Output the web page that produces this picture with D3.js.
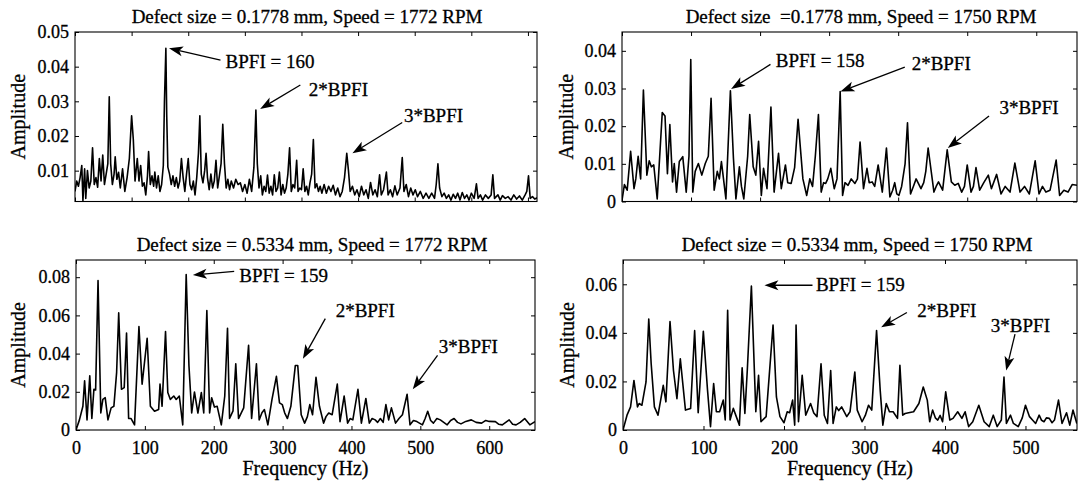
<!DOCTYPE html>
<html>
<head>
<meta charset="utf-8">
<script src="https://cdn.jsdelivr.net/npm/d3@7"></script>
<style>
body { margin: 0; background: #fff; }
text { font-family: "Liberation Serif", "DejaVu Serif", serif; fill: #000; stroke: #000; stroke-width: 0.3px; }
.tick text { font-size: 18px; }
</style>
</head>
<body>
<script>
// spectra: [frequency (Hz), amplitude]
var seriesTL = [[0,0.004],[3,0.007],[6,0.0055],[9,0.008],[12,0.0115],[14,0.0013],[17,0.0105],[19,0.002],[22,0.0100],[25,0.005],[28,0.007],[31,0.0166],[34,0.006],[37,0.008],[40,0.0052],[43,0.0135],[46,0.007],[49,0.0145],[52,0.006],[55,0.009],[58,0.012],[60.5,0.0313],[63,0.012],[66,0.006],[69,0.009],[71,0.014],[74,0.0075],[77,0.0095],[80,0.005],[84,0.0105],[88,0.004],[92,0.008],[96,0.0135],[100,0.0258],[103,0.019],[106,0.007],[110,0.0135],[113,0.007],[116,0.0115],[119,0.0055],[122,0.0065],[125,0.003],[128,0.0085],[130,0.0155],[133,0.006],[136,0.0085],[139,0.0055],[141,0.0096],[144,0.005],[147,0.0085],[150,0.004],[153,0.006],[156,0.0115],[158,0.03],[160.5,0.0453],[162,0.026],[164,0.011],[167,0.009],[170,0.006],[173,0.0085],[176,0.0055],[179,0.008],[182,0.005],[185,0.007],[188,0.0135],[191,0.008],[194,0.004],[197,0.009],[200,0.0135],[203,0.006],[206,0.0045],[209,0.007],[212,0.003],[215,0.008],[218,0.015],[220.5,0.0258],[223,0.009],[226,0.0065],[229,0.01],[231.5,0.015],[234,0.008],[237,0.0045],[240,0.009],[243,0.005],[246,0.007],[249,0.013],[252,0.005],[255,0.0085],[258,0.012],[261,0.0234],[264,0.012],[267,0.005],[270,0.0075],[273,0.0045],[276,0.007],[280,0.005],[284,0.0075],[288,0.006],[292,0.0065],[296,0.004],[300,0.006],[304,0.0035],[308,0.0075],[312,0.004],[316,0.011],[319.5,0.0275],[322,0.012],[325,0.005],[328,0.0085],[331,0.003],[334,0.0055],[337,0.004],[340,0.0087],[343,0.0035],[346,0.0055],[349,0.003],[352,0.0088],[355,0.004],[358,0.005],[361,0.0096],[364,0.003],[367,0.006],[370,0.0035],[373,0.005],[376,0.009],[379,0.0166],[382,0.004],[385,0.006],[388,0.005],[391.5,0.013],[394,0.004],[397,0.005],[400,0.0045],[403,0.0105],[406,0.004],[409,0.0055],[412,0.003],[415,0.0065],[418,0.009],[421,0.019],[424,0.005],[427,0.0062],[430,0.004],[433,0.0055],[436,0.0035],[440,0.006],[444,0.0035],[448,0.0055],[452,0.004],[456,0.0058],[460,0.003],[464,0.005],[468,0.0025],[472,0.004],[476,0.008],[480,0.015],[483,0.01],[486,0.004],[490,0.0055],[494,0.003],[498,0.0045],[502,0.0025],[506,0.0055],[510,0.003],[514,0.0045],[518,0.002],[522,0.0066],[526,0.003],[530,0.0045],[534,0.0025],[538,0.0088],[541,0.003],[545,0.0045],[550,0.0096],[553,0.003],[557,0.0045],[561,0.0025],[565,0.0056],[569,0.003],[574,0.005],[578,0.0138],[581,0.004],[585,0.006],[589,0.0025],[593,0.005],[597,0.003],[601,0.0045],[605,0.0025],[610,0.004],[615,0.002],[620,0.0035],[625,0.002],[630,0.0035],[635,0.002],[638,0.006],[641,0.012],[644,0.005],[648,0.0025],[652,0.0035],[656,0.002],[660,0.003],[664,0.0015],[668,0.0032],[672,0.002],[676,0.0035],[680,0.0015],[684,0.0037],[688,0.002],[692,0.003],[696,0.0015],[700,0.0035],[705,0.002],[709,0.0062],[712,0.002],[716,0.003],[720,0.0015],[725,0.003],[730,0.002],[735,0.003],[738,0.0088],[741,0.002],[747,0.003],[751,0.0015],[755,0.0028],[760,0.002],[765,0.0025],[770,0.0015],[775,0.003],[780,0.0018],[785,0.0027],[790,0.0015],[795,0.003],[798,0.004],[801,0.0085],[804,0.002],[808,0.0025],[812,0.0018],[816,0.0022]];

var seriesTR = [[0,0.0003],[3.5,0.0045],[7.5,0.003],[12.5,0.0133],[17.4,0.0034],[20,0.006],[23.4,0.012],[27,0.006],[31,0.0296],[36,0.007],[39.4,0.0108],[42.5,0.0092],[46,0.0097],[51,0.0007],[58.3,0.0236],[62.3,0.0227],[65.8,0.0074],[69.3,0.0204],[73.2,0.0052],[75.7,0.0101],[79,0.0025],[83,0.0106],[88,0.0119],[93,0.0025],[97,0.012],[99.6,0.0377],[102.5,0.0025],[106,0.008],[110.6,0.0101],[115.6,0.007],[120.6,0.0101],[125,0.012],[129,0.0274],[133.5,0.003],[138,0.008],[141,0.006],[144,0.0106],[150.5,0.0007],[157,0.0294],[161.4,0.0115],[165,0.0007],[170,0.0092],[173,0.004],[176.4,0.0007],[182,0.012],[185,0.0231],[190,0.0092],[193.8,0.007],[197.8,0.016],[201.8,0.0016],[205,0.0088],[210,0.0034],[215.7,0.0251],[220.3,0.0025],[226.7,0.0128],[230.7,0.0034],[236.7,0.0097],[240,0.005],[245,0.0048],[250,0.009],[255,0.0218],[262,0.006],[267.5,0.0016],[272,0.006],[276,0.004],[280,0.012],[284.5,0.0231],[288.5,0.0025],[292,0.005],[295,0.0048],[298,0.006],[302.4,0.0088],[307.4,0.0034],[311.4,0.006],[316,0.0292],[319.5,0.0016],[323,0.005],[327.4,0.0043],[332,0.006],[337.4,0.0048],[341,0.006],[344.8,0.0158],[349.8,0.0034],[354.8,0.0088],[358,0.005],[362.3,0.0052],[366,0.004],[371,0.0097],[377,0.0025],[383,0.0142],[388,0.0012],[392,0.003],[395,0.005],[398,0.002],[401,0.0016],[405,0.004],[410,0.01],[413.5,0.0209],[417.9,0.002],[422,0.004],[426,0.006],[433,0.0034],[437,0.005],[440,0.008],[443.4,0.0142],[451.8,0.0025],[455,0.004],[458.4,0.0052],[464.4,0.003],[471,0.0137],[477,0.0052],[482,0.0043],[487,0.0048],[492,0.0025],[496,0.004],[500,0.0097],[505.5,0.0025],[509,0.004],[512.7,0.009],[518,0.003],[524,0.005],[530.6,0.007],[535,0.0034],[542.6,0.0072],[549,0.002],[555,0.004],[562,0.0025],[569,0.0102],[576.5,0.0025],[583,0.004],[590,0.002],[598.4,0.0108],[604,0.002],[609,0.004],[614,0.0025],[620,0.003],[628.8,0.011],[633.8,0.0016],[640,0.003],[646,0.0025],[652,0.0045],[659,0.0043]];

var seriesBL = [[0,0],[5,0.0053],[10,0.0124],[12.5,0.0258],[16,0.0053],[20,0.0284],[23,0.006],[26,0.0213],[28.5,0.021],[32,0.0782],[36,0.0089],[39,0.016],[42.4,0.0169],[46.4,0.0053],[51,0.0116],[55,0.0124],[59,0.0302],[62,0.0613],[66,0.0213],[70,0.0222],[73.4,0.0507],[76.4,0.006],[80,0.006],[85,0.0027],[91.4,0.0542],[96,0.024],[103.3,0.048],[108,0.0124],[114,0.0098],[120,0.0107],[122,0.024],[125,0.0124],[130,0.0516],[133.3,0.0196],[137,0.016],[142,0.0178],[145.5,0.016],[150,0.0178],[155,0.0027],[160,0.0814],[164,0.0338],[168,0.0089],[172,0.0199],[177,0.0089],[182,0.0196],[185.5,0.0089],[190,0.0626],[194,0.0089],[197,0.0169],[201,0.012],[205,0.0124],[211,0.0027],[216,0.0178],[220,0.0533],[223,0.006],[228,0.01],[232,0.0347],[236,0.006],[240,0.009],[243.5,0.0116],[250.6,0.0444],[255,0.006],[262,0.0347],[266,0.0053],[270,0.009],[273.6,0.0107],[278.6,0.0027],[284.6,0.016],[291,0.0281],[295.5,0.0142],[299.5,0.0133],[303,0.009],[307,0.006],[312,0.0124],[318.5,0.0338],[322,0.0338],[327,0.008],[332,0.0036],[336,0.007],[339.5,0.0133],[343.5,0.008],[348.5,0.0276],[353.5,0.0124],[359.5,0.0036],[363,0.007],[367,0.0089],[372,0.008],[379.4,0.024],[383.4,0.0044],[389.4,0.0178],[394.4,0.0036],[398,0.006],[402,0.0053],[409.4,0.0213],[414.4,0.0036],[420.9,0.0165],[425.9,0.0036],[430,0.006],[434.4,0.0053],[438,0.004],[442,0.006],[446,0.004],[450,0.0133],[454,0.0053],[458,0.0116],[464,0.0036],[469,0.006],[474,0.008],[480.8,0.0187],[485,0.0027],[490,0.005],[495,0.0044],[503,0.0027],[507,0.006],[510.7,0.0098],[515,0.005],[519,0.0036],[524,0.006],[529,0.0053],[534,0.004],[539,0.0027],[544,0.005],[549,0.006],[554,0.004],[559,0.0032],[566,0.0045],[574,0.0053],[581,0.004],[589,0.0036],[595,0.005],[600,0.0045],[609,0.0044],[614,0.003],[619,0.0027],[624,0.004],[629,0.0053],[634,0.003],[639,0.0027],[645,0.004],[651.5,0.006],[659,0.0027],[666.5,0.0044]];

var seriesBR = [[0,0],[5,0.0061],[9.4,0.0095],[13.6,0.0204],[18,0.0095],[20,0.0109],[23.5,0.0102],[28.6,0.0198],[32,0.0457],[35,0.0273],[39,0.0095],[43.5,0.0061],[50,0.0184],[53.3,0.0116],[58.4,0.0447],[62.7,0.0245],[67,0.0129],[71.2,0.0293],[77.6,0.0082],[84,0.0089],[89,0.0409],[93.4,0.0071],[99.8,0.0406],[105,0.0164],[108.7,0.0014],[112.6,0.0191],[116,0.0075],[120,0.0075],[124.5,0.0123],[127,0.0041],[130,0.0493],[133,0.0041],[137,0.0089],[144.6,0.002],[148,0.0256],[151.4,0.0068],[154.4,0.0245],[159.5,0.0593],[165,0.0075],[168.4,0.0225],[171.4,0.0034],[177.8,0.0055],[186.4,0.0432],[190.6,0.0136],[195,0.0055],[200,0.003],[204,0.0075],[207,0.0071],[210.7,0.0123],[213.3,0.002],[215,0.0432],[218,0.0034],[222.6,0.0225],[227,0.0061],[233,0.0109],[237,0.007],[241,0.0055],[246,0.0273],[250,0.0061],[254,0.0027],[258,0.0245],[261,0.0027],[265,0.0095],[268,0.008],[271.6,0.0095],[278,0.0055],[282,0.0075],[288,0.0239],[291,0.0082],[297,0.0034],[301,0.006],[305,0.0102],[309,0.0082],[315,0.0409],[319.5,0.0164],[322.8,0.002],[327,0.0109],[331,0.0075],[335.6,0.0075],[341,0.0048],[344,0.0266],[347.5,0.0061],[350.5,0.0068],[354.8,0.0071],[361,0.0075],[367.6,0.0109],[373,0.0177],[378,0.0123],[381,0.0034],[384.6,0.0082],[388,0.005],[391,0.0041],[394,0.006],[397,0.0034],[400.9,0.0157],[406,0.0041],[410,0.0048],[415.8,0.0075],[421,0.0048],[425,0.0075],[429.4,0.0014],[434.5,0.0034],[442,0.0102],[448.6,0.0034],[455,0.0014],[460,0.0061],[464.8,0.0014],[470,0.0041],[473.3,0.0218],[476.3,0.0027],[481.4,0.0061],[485,0.0027],[491,0.0014],[496,0.005],[500,0.0102],[505,0.0055],[509,0.004],[512.6,0.0027],[517,0.0061],[520,0.004],[523,0.0034],[526,0.005],[529.6,0.0048],[533,0.003],[536,0.0041],[541,0.0123],[545.4,0.0027],[551,0.0071],[555,0.002],[559,0.0082],[563.8,0.0027]];

var titles = ['Defect size = 0.1778 mm, Speed = 1772 RPM',
	'Defect size  =0.1778 mm, Speed = 1750 RPM',
	'Defect size = 0.5334 mm, Speed = 1772 RPM',
	'Defect size = 0.5334 mm, Speed = 1750 RPM'];

var xMaxes = [816, 659, 666.5, 564];
var yDomains = [[0.0011, 0.05], [0, 0.045], [0, 0.089], [0, 0.07]];
var yTicksTL = [0.01, 0.02, 0.03, 0.04, 0.05],
	yTicksTR = [0, 0.01, 0.02, 0.03, 0.04],
	yTicksBL = [0, 0.02, 0.04, 0.06, 0.08],
	yTicksBR = [0, 0.02, 0.04, 0.06];
var xTicksTL = [0, 100, 200, 300, 400, 500, 600, 700, 800],
	xTicksTR = [0, 100, 200, 300, 400, 500, 600],
	xTicksBL = [0, 100, 200, 300, 400, 500, 600],
	xTicksBR = [0, 100, 200, 300, 400, 500];

// annotations: label, text anchor [Hz, amp], arrow start, arrow tip
var notesTL = [['BPFI = 160', [266, 0.0416], [257, 0.0419], [166, 0.0453]],
	['2*BPFI', [413, 0.0333], [398, 0.0347], [327, 0.0278]],
	['3*BPFI', [581, 0.0259], [578, 0.0239], [490, 0.015]]];
var notesTR = [['BPFI = 158', [222.7, 0.0375], [215, 0.0364], [158, 0.0299]],
	['2*BPFI', [419.5, 0.0366], [409.6, 0.0357], [316.4, 0.0292]],
	['3*BPFI', [546.6, 0.0249], [531.6, 0.0227], [471.8, 0.0142]]];
var notesBL = [['BPFI = 159', [237, 0.0809], [229.7, 0.083], [169.7, 0.0812]],
	['2*BPFI', [377, 0.0626], [362, 0.0583], [329.5, 0.0373]],
	['3*BPFI', [526.7, 0.0436], [525, 0.0391], [489, 0.0213]]];
var notesBR = [['BPFI = 159', [239.7, 0.06], [235.4, 0.0596], [175.7, 0.0596]],
	['2*BPFI', [365.5, 0.0491], [352.7, 0.0484], [320.7, 0.0423]],
	['3*BPFI', [457, 0.0429], [487, 0.0395], [476, 0.0245]]];

var width = 1078, height = 484;

var panels = [
	{box: [75, 32, 537, 201.5], data: seriesTL, yTicks: yTicksTL, xTicks: xTicksTL, notes: notesTL, labels: false, titleX: 307, ylabX: 18},
	{box: [622, 32, 1077, 201.5], data: seriesTR, yTicks: yTicksTR, xTicks: xTicksTR, notes: notesTR, labels: false, titleX: 861, ylabX: 566},
	{box: [76, 260, 535, 430], data: seriesBL, yTicks: yTicksBL, xTicks: xTicksBL, notes: notesBL, labels: true, titleX: 312, ylabX: 18},
	{box: [623, 260, 1077, 430], data: seriesBR, yTicks: yTicksBR, xTicks: xTicksBR, notes: notesBR, labels: true, titleX: 857, ylabX: 567}
];

var svg = d3.select('body').append('svg')
	.attr('width', width)
	.attr('height', height);

var yFmt = function(d) { return d === 0 ? '0' : d3.format('.2f')(d); };

function drawArrow(g, x1, y1, x2, y2) {
	var a = Math.atan2(y2 - y1, x2 - x1),
		len = 14, half = 5,
		cx = Math.cos(a), cy = Math.sin(a),
		bx = x2 - len * cx, by = y2 - len * cy,
		nx = x2 - 0.75 * len * cx, ny = y2 - 0.75 * len * cy;
	g.append('line')
		.attr('x1', x1).attr('y1', y1)
		.attr('x2', nx).attr('y2', ny)
		.attr('stroke', '#000')
		.attr('stroke-width', 1.3);
	g.append('path')
		.attr('d', 'M' + x2 + ',' + y2 +
			'L' + (bx - half * cy) + ',' + (by + half * cx) +
			'L' + nx + ',' + ny +
			'L' + (bx + half * cy) + ',' + (by - half * cx) + 'Z')
		.attr('fill', '#000');
}

panels.forEach(function(p, i) {
	var x0 = p.box[0], y0 = p.box[1], x1 = p.box[2], y1 = p.box[3];

	var x = d3.scaleLinear().domain([0, xMaxes[i]]).range([x0, x1]);
	var y = d3.scaleLinear().domain(yDomains[i]).range([y1, y0]);

	var g = svg.append('g');

	g.append('clipPath').attr('id', 'clip' + i)
		.append('rect')
		.attr('x', x0).attr('y', y0)
		.attr('width', x1 - x0).attr('height', y1 - y0);

	var line = d3.line()
		.x(function(d) { return x(d[0]); })
		.y(function(d) { return y(d[1]); });

	g.append('path')
		.attr('d', line(p.data))
		.attr('clip-path', 'url(#clip' + i + ')')
		.attr('fill', 'none')
		.attr('stroke', '#000')
		.attr('stroke-width', 1.6)
		.attr('stroke-linejoin', 'round');

	// inward ticks on all four sides
	g.append('g')
		.attr('transform', 'translate(0,' + y1 + ')')
		.call(d3.axisBottom(x).tickValues(p.xTicks).tickSize(-4).tickSizeOuter(0)
			.tickPadding(11)
			.tickFormat(p.labels ? d3.format('d') : ''));
	g.append('g')
		.attr('transform', 'translate(0,' + y0 + ')')
		.call(d3.axisTop(x).tickValues(p.xTicks).tickSize(-4).tickSizeOuter(0).tickFormat(''));
	g.append('g')
		.attr('transform', 'translate(' + x0 + ',0)')
		.call(d3.axisLeft(y).tickValues(p.yTicks).tickSize(-4).tickSizeOuter(0)
			.tickPadding(6).tickFormat(yFmt));
	g.append('g')
		.attr('transform', 'translate(' + x1 + ',0)')
		.call(d3.axisRight(y).tickValues(p.yTicks).tickSize(-4).tickSizeOuter(0).tickFormat(''));

	g.selectAll('.domain').remove();
	g.selectAll('.tick line').attr('stroke', '#000');

	g.append('rect')
		.attr('x', x0).attr('y', y0)
		.attr('width', x1 - x0).attr('height', y1 - y0)
		.attr('fill', 'none')
		.attr('stroke', '#000')
		.attr('stroke-width', 1.1);

	g.append('text')
		.attr('x', p.titleX)
		.attr('y', y0 - 9)
		.attr('text-anchor', 'middle')
		.style('font-size', '19px')
		.style('white-space', 'pre')
		.text(titles[i]);

	g.append('text')
		.attr('transform', 'translate(' + p.ylabX + ',' + ((y0 + y1) / 2) + ') rotate(-90)')
		.attr('text-anchor', 'middle')
		.attr('dominant-baseline', 'central')
		.style('font-size', '20px')
		.text('Amplitude');

	if (p.labels) {
		g.append('text')
			.attr('x', (x0 + x1) / 2)
			.attr('y', y1 + 45)
			.attr('text-anchor', 'middle')
			.style('font-size', '20px')
			.text('Frequency (Hz)');
	}

	p.notes.forEach(function(n) {
		g.append('text')
			.attr('x', x(n[1][0]))
			.attr('y', y(n[1][1]))
			.attr('dominant-baseline', 'central')
			.style('font-size', '19px')
			.text(n[0]);
		drawArrow(g, x(n[2][0]), y(n[2][1]), x(n[3][0]), y(n[3][1]));
	});
});
</script>
</body>
</html>
